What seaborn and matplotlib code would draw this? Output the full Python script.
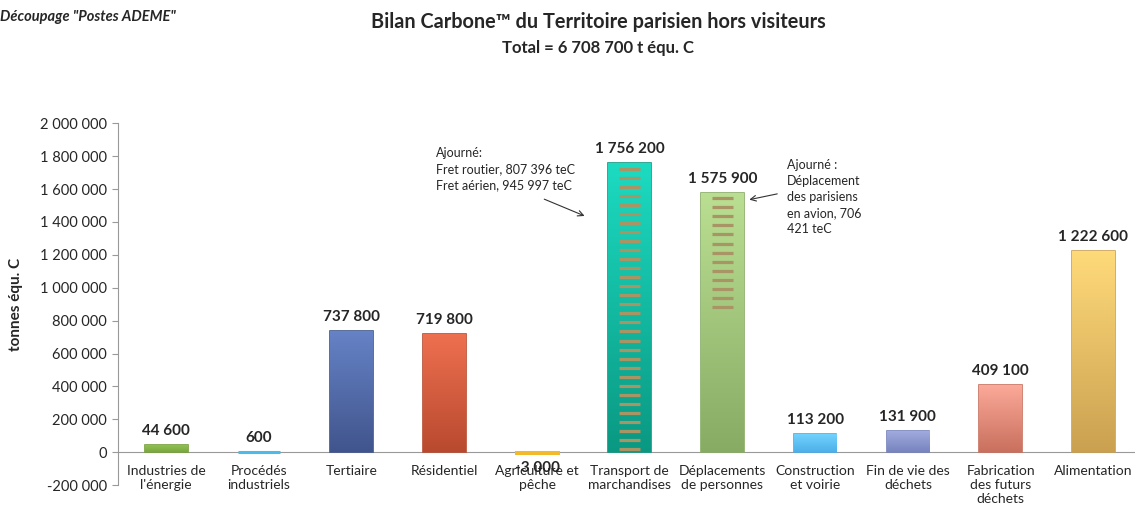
import numpy as np
import pandas as pd
import matplotlib
matplotlib.use("Agg")
import matplotlib.pyplot as plt
import seaborn as sns
from matplotlib.colors import LinearSegmentedColormap

postes = ["Industries de\nl'énergie", "Procédés\nindustriels", "Tertiaire", "Résidentiel",
          "Agriculture et\npêche", "Transport de\nmarchandises", "Déplacements\nde personnes",
          "Construction\net voirie", "Fin de vie des\ndéchets", "Fabrication\ndes futurs\ndéchets",
          "Alimentation"]
emissions = [44600, 600, 737800, 719800, -3000, 1756200, 1575900, 113200, 131900, 409100, 1222600]
# part "ajournée" (hachures) : fret routier + fret aérien, avion des parisiens
ajourne = [0, 0, 0, 0, 0, 807396 + 945997, 706421, 0, 0, 0, 0]
couleur_haut = ["#93c456", "#4dbbea", "#6683c6", "#ee7050", "#f2ba2a", "#1cdbc1",
                "#badf92", "#74d4ff", "#a2acdf", "#fcaa9a", "#ffda7a"]
couleur_bas = ["#74a038", "#389dd0", "#40548c", "#b8492e", "#d89a12", "#0a9882",
               "#88ab64", "#48ace6", "#7380bb", "#c86e5c", "#caa050"]
yticks = [-200000, 0, 200000, 400000, 600000, 800000, 1000000, 1200000, 1400000,
          1600000, 1800000, 2000000]

def fr(v):
    return f"{v:,}".replace(",", " ")

df = pd.DataFrame({"poste": postes, "tonnes": emissions})

sns.set_style("white")
plt.rcParams["font.family"] = ["Lato", "DejaVu Sans"]

fig = plt.figure(figsize=(11.35, 5.2), dpi=100)
ax = fig.add_axes([0.104, 0.067, 0.896, 0.696])

sns.barplot(data=df, x="poste", y="tonnes", hue="poste", palette=couleur_haut,
            legend=False, width=0.46, ax=ax, zorder=2)

grad = np.linspace(0, 1, 200).reshape(-1, 1)
for i, p in enumerate(ax.patches):
    x0, w = p.get_x(), p.get_width()
    y0, h = p.get_y(), p.get_height()
    lo, hi = min(y0, y0 + h), max(y0, y0 + h)
    v = emissions[i]
    if abs(v) < 20000:
        p.set_edgecolor(couleur_haut[i])
        p.set_linewidth(2.2)
    else:
        p.set_edgecolor(couleur_bas[i])
        p.set_linewidth(1.2)
        cmap = LinearSegmentedColormap.from_list("g", [couleur_bas[i], couleur_haut[i]])
        im = ax.imshow(grad, extent=[x0, x0 + w, lo - 12000, hi], origin="lower", cmap=cmap,
                       aspect="auto", zorder=2.5)
        im.set_clip_path(p)
    if ajourne[i] > 0:
        pas = 55000
        ys = np.arange(hi - 32000, hi - ajourne[i], -pas)
        xc = x0 + w / 2
        ax.hlines(ys, xc - w * 0.25, xc + w * 0.25, color="#a89464", lw=2.3, zorder=3)
    ax.annotate(fr(v), (x0 + w / 2, hi if v >= 0 else lo),
                xytext=(0, 5 if v >= 0 else -6), textcoords="offset points",
                ha="center", va="bottom" if v >= 0 else "top",
                fontsize=11, fontweight="bold", zorder=5)

ax.set_xlim(-0.52, 10.45)
ax.set_ylim(-200000, 2000000)
ax.set_yticks(yticks)
ax.set_yticklabels([fr(t) for t in yticks], fontsize=10.5)
ax.set_xlabel("")
ax.set_ylabel("tonnes équ. C", fontsize=11, fontweight="bold")
ax.yaxis.set_label_coords(-0.093, 0.5)

for s in ["top", "right"]:
    ax.spines[s].set_visible(False)
ax.spines["bottom"].set_position(("data", 0))
ax.spines["bottom"].set_color("#999999")
ax.spines["bottom"].set_zorder(1.5)
ax.spines["left"].set_color("#999999")
ax.tick_params(axis="x", length=0, pad=9, labelsize=10)
ax.tick_params(axis="y", length=4, color="#999999", pad=4, left=True)

# annotations
ax.text(2.91, 1855000, "Ajourné:\nFret routier, 807 396 teC\nFret aérien, 945 997 teC",
        fontsize=9, va="top", ha="left", linespacing=1.4)
ax.annotate("", xy=(4.54, 1430000), xytext=(4.05, 1545000),
            arrowprops=dict(arrowstyle="->", color="#333333", lw=0.8))
ax.text(6.70, 1780000, "Ajourné :\nDéplacement\ndes parisiens\nen avion, 706\n421 teC",
        fontsize=9, va="top", ha="left", linespacing=1.4)
ax.annotate("", xy=(6.26, 1532000), xytext=(6.62, 1574000),
            arrowprops=dict(arrowstyle="->", color="#333333", lw=0.8))

fig.text(0.527, 0.958, "Bilan Carbone™ du Territoire parisien hors visiteurs",
         ha="center", va="center", fontsize=14.3, fontweight="bold")
fig.text(0.527, 0.908, "Total = 6 708 700 t équ. C", ha="center", va="center",
         fontsize=12, fontweight="bold")
fig.text(0.0, 0.967, "Découpage \"Postes ADEME\"", ha="left", va="center",
         fontsize=10.5, fontweight="bold", style="italic")

fig.savefig("out.png", dpi=100)
